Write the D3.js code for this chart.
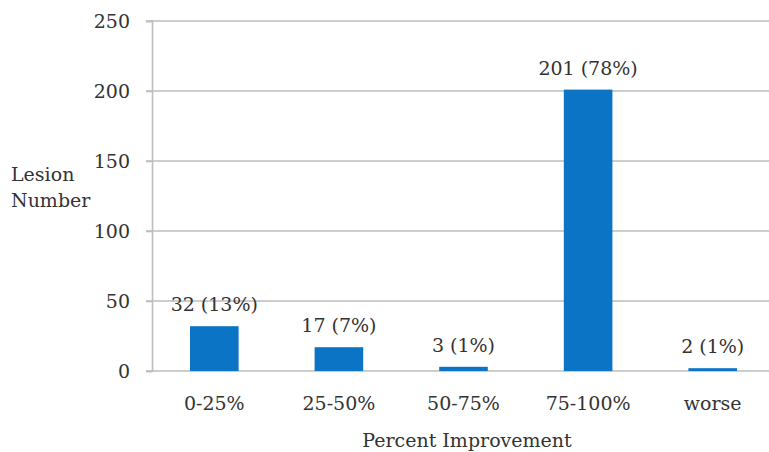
<!DOCTYPE html>
<html>
<head>
<script src="https://cdn.jsdelivr.net/npm/d3@7/dist/d3.min.js"></script>
<style>
  body { margin: 0; background: #fff; }
  text { font-family: "DejaVu Serif", serif; fill: #333; }
</style>
</head>
<body>
<svg width="769" height="452" id="mainsvg"></svg>
<script>
const categories = ['0-25%', '25-50%', '50-75%', '75-100%', 'worse'];
const counts = [32, 17, 3, 201, 2];
const labels = ['32 (13%)', '17 (7%)', '3 (1%)', '201 (78%)', '2 (1%)'];
const yTicks = [0, 50, 100, 150, 200, 250];

const svg = d3.select('svg');
const margin = {top: 21, left: 152, bottom: 81};
const innerHeight = 452 - margin.top - margin.bottom;
const g = svg.append('g').attr('transform', `translate(${margin.left},${margin.top})`);

const x = d3.scaleBand().domain(categories).range([0, 623]).paddingInner(0.61).paddingOuter(0.305);
const y = d3.scaleLinear().domain([0, 250]).range([innerHeight, 0]);

// gridlines
g.selectAll('.grid').data(yTicks).join('line')
  .attr('x1', -6).attr('x2', 640)
  .attr('y1', d => y(d)).attr('y2', d => y(d))
  .attr('stroke', '#bdbdbd').attr('stroke-width', 1.6);

// y axis
const yAxis = g.append('g').call(d3.axisLeft(y).tickValues(yTicks).tickSize(6).tickPadding(16));
yAxis.select('.domain').attr('stroke', '#bdbdbd').attr('stroke-width', 1.6);
yAxis.selectAll('.tick line').attr('stroke', '#bdbdbd').attr('stroke-width', 1.6);
yAxis.selectAll('text').attr('font-size', 19).attr('font-family', 'DejaVu Serif').attr('fill', '#333');

// bars
g.selectAll('.bar').data(counts).join('rect')
  .attr('x', (d, i) => x(categories[i]))
  .attr('width', x.bandwidth())
  .attr('y', d => y(d))
  .attr('height', d => innerHeight - y(d))
  .attr('fill', '#0b74c4');

// value labels
g.selectAll('.lbl').data(labels).join('text')
  .attr('x', (d, i) => x(categories[i]) + x.bandwidth() / 2)
  .attr('y', (d, i) => y(counts[i]) - 15)
  .attr('text-anchor', 'middle')
  .attr('font-size', 19)
  .text(d => d);

// x axis labels
const xAxis = g.append('g').attr('transform', `translate(0,${innerHeight})`)
  .call(d3.axisBottom(x).tickSize(0).tickPadding(26));
xAxis.select('.domain').remove();
xAxis.selectAll('text').attr('font-size', 19).attr('font-family', 'DejaVu Serif').attr('fill', '#333');

svg.append('text').attr('x', 467).attr('y', 447).attr('text-anchor', 'middle')
  .attr('font-size', 19).text('Percent Improvement');
svg.append('text').attr('x', 11).attr('y', 181).attr('font-size', 19).text('Lesion');
svg.append('text').attr('x', 11).attr('y', 207).attr('font-size', 19).text('Number');
</script>
</body>
</html>
